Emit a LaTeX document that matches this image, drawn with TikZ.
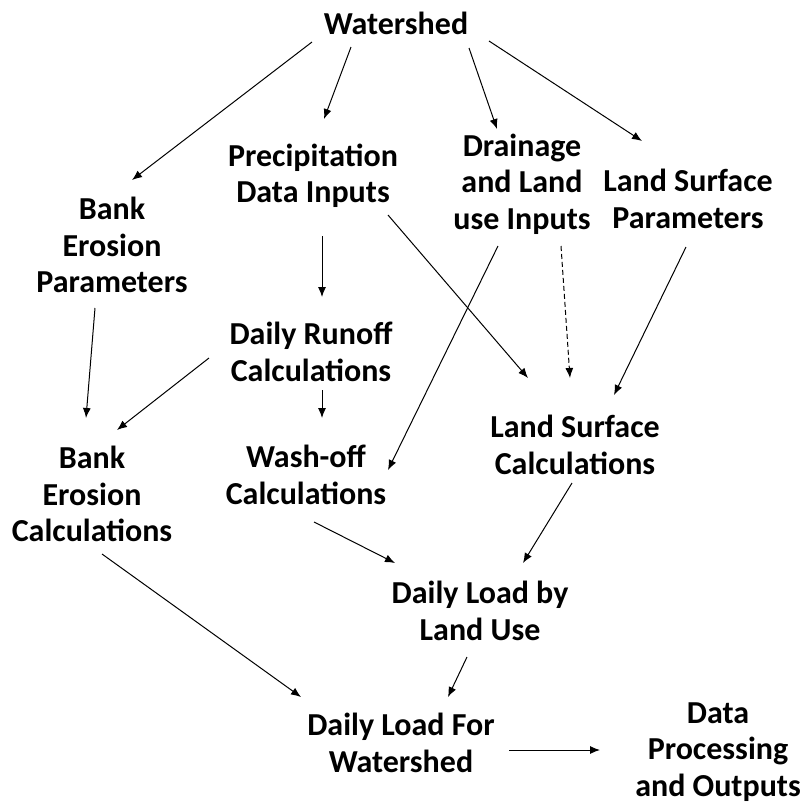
\documentclass[tikz,border=0pt]{standalone}
\usepackage{fontspec}
\setmainfont{Carlito}
\usetikzlibrary{arrows.meta,calc}
\tikzset{
  lbl/.style={align=center,inner sep=0pt,font=\bfseries\fontsize{32}{36.5}\selectfont},
  arr/.style={-{Latex[length=10pt,width=8pt]},line width=1pt},
  darr/.style={arr,dash pattern=on 5pt off 3pt}
}
\begin{document}
\begin{tikzpicture}[x=1pt,y=-1pt]
\useasboundingbox[fill=white] (0,0) rectangle (800,804);
\node[lbl] (ws) at (396,23) {Watershed};
\node[lbl] (pdi) at (313,176) {Precipitation\\Data Inputs};
\node[lbl] (dli) at (522,184) {Drainage\\and Land\\use Inputs};
\node[lbl] (lsp) at (688,199) {Land Surface\\Parameters};
\node[lbl] (bep) at (112,245) {Bank\\Erosion\\Parameters};
\node[lbl] (drc) at (311,352) {Daily Runoff\\Calculations};
\node[lbl] (lsc) at (575,445) {Land Surface\\Calculations};
\node[lbl] (bec) at (92,494) {Bank\\Erosion\\Calculations};
\node[lbl] (woc) at (306,475) {Wash-off\\Calculations};
\node[lbl] (dll) at (480,611) {Daily Load by\\Land Use};
\node[lbl] (dlw) at (401,743) {Daily Load For\\Watershed};
\node[lbl] (dpo) at (718,752) {Data\\Processing\\and Outputs};

\draw[arr] ([shift={(-84,19)}]ws.center) -- ([shift={(20,-65)}]bep.center);
\draw[arr] ([shift={(-45,24)}]ws.center) -- ([shift={(11,-57)}]pdi.center);
\draw[arr] ([shift={(73,25)}]ws.center) -- ([shift={(-25,-55)}]dli.center);
\draw[arr] ([shift={(93,18)}]ws.center) -- ([shift={(-46,-58)}]lsp.center);
\draw[arr] ([shift={(9,60)}]pdi.center) -- ([shift={(11,-55)}]drc.center);
\draw[arr] ([shift={(75,39)}]pdi.center) -- ([shift={(-47,-67)}]lsc.center);
\draw[arr] ([shift={(-24,62)}]dli.center) -- ([shift={(82,-5)}]woc.center);
\draw[darr] ([shift={(39,62)}]dli.center) -- ([shift={(-5,-67)}]lsc.center);
\draw[arr] ([shift={(-2,48)}]lsp.center) -- ([shift={(39,-50)}]lsc.center);
\draw[arr] ([shift={(-17,63)}]bep.center) -- ([shift={(-6,-76)}]bec.center);
\draw[arr] ([shift={(-102,6)}]drc.center) -- ([shift={(25,-64)}]bec.center);
\draw[arr] ([shift={(11,38)}]drc.center) -- ([shift={(16,-57)}]woc.center);
\draw[arr] ([shift={(8,47)}]woc.center) -- ([shift={(-85,-48)}]dll.center);
\draw[arr] ([shift={(-3,38)}]lsc.center) -- ([shift={(43,-48)}]dll.center);
\draw[arr] ([shift={(10,60)}]bec.center) -- ([shift={(-100,-46)}]dlw.center);
\draw[arr] ([shift={(-13,46)}]dll.center) -- ([shift={(47,-46)}]dlw.center);
\draw[arr] ([shift={(108,7)}]dlw.center) -- ([shift={(-118,-2)}]dpo.center);
\end{tikzpicture}
\end{document}
